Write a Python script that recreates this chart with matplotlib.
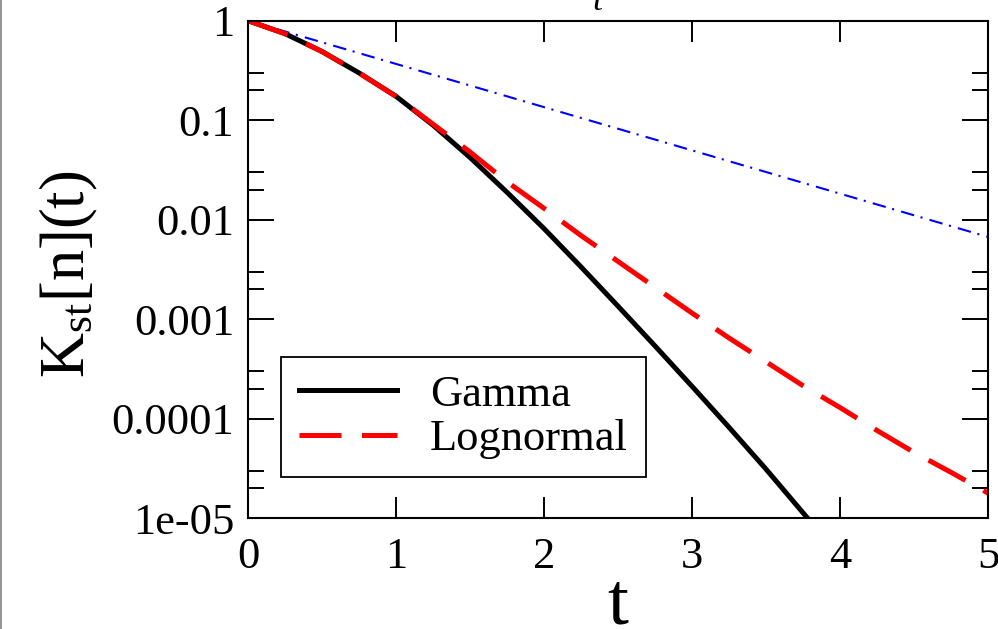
import matplotlib
matplotlib.use("Agg")
import matplotlib.pyplot as plt
from matplotlib.lines import Line2D

# ---- data ----
t_gamma = [0.0, 0.25, 0.5, 0.75, 1.0, 1.25, 1.5, 1.75, 2.0, 2.25, 2.5, 2.75, 3.0, 3.25, 3.5, 3.78]
k_gamma = [1.0, 0.741, 0.490, 0.2985, 0.1738, 0.0891, 0.0422, 0.01884, 0.00813, 0.00335,
           0.001349, 0.000537, 0.000211, 8.17e-5, 3.10e-5, 1.0e-5]

t_logn = [0.0, 0.25, 0.5, 0.75, 1.0, 1.25, 1.5, 1.75, 2.0, 2.25, 2.5, 2.75, 3.0, 3.25, 3.5,
          3.75, 4.0, 4.25, 4.5, 4.75, 5.0]
k_logn = [1.0, 0.741, 0.490, 0.2985, 0.1738, 0.0912, 0.0479, 0.0240, 0.0130, 0.00692, 0.0038,
          0.00209, 0.00115, 0.000646, 0.000372, 0.000214, 0.000129, 7.59e-5, 4.57e-5, 2.88e-5, 1.78e-5]

t_exp = [0.0, 2.5, 5.0]
k_exp = [1.0, 0.082, 0.0067]

x_ticks = [0, 1, 2, 3, 4, 5]
y_ticks = [1e-5, 1e-4, 1e-3, 1e-2, 1e-1, 1]
y_ticklabels = ["1e-05", "0.0001", "0.001", "0.01", "0.1", "1"]
series_labels = ["Gamma", "Lognormal"]

plt.rcParams["font.family"] = ["Liberation Serif", "DejaVu Serif"]
plt.rcParams["mathtext.fontset"] = "custom"
plt.rcParams["mathtext.rm"] = "Liberation Serif"
plt.rcParams["mathtext.it"] = "Liberation Serif:italic"

W, H = 998, 629
fig = plt.figure(figsize=(W / 100, H / 100), dpi=100)
ax = fig.add_axes([248 / W, (H - 518) / H, (988 - 248) / W, (518 - 20.7) / H])

ax.plot(t_exp, k_exp, color="#0000ff", lw=1.5, dashes=(6.5, 3.2, 1, 3.5))
ax.plot(t_gamma, k_gamma, color="black", lw=3.6, label=series_labels[0])
ax.plot(t_logn, k_logn, color="#ff0000", lw=3.6, dashes=(8.4, 4.1), label=series_labels[1])

ax.set_yscale("log")
ax.set_xlim(0, 5)
ax.set_ylim(1e-5, 1)
ax.set_xticks(x_ticks)
ax.set_xticklabels([str(v) for v in x_ticks])
ax.set_yticks(y_ticks)
ax.set_yticklabels(y_ticklabels)
minors = []
for e in range(-5, 0):
    minors += [2 * 10.0 ** e, 3 * 10.0 ** e]
ax.yaxis.set_minor_locator(matplotlib.ticker.FixedLocator(minors))
ax.yaxis.set_minor_formatter(matplotlib.ticker.NullFormatter())
ax.xaxis.set_minor_locator(matplotlib.ticker.NullLocator())

ax.tick_params(axis="both", which="both", direction="in", top=True, right=True, width=1.4, colors="black")
ax.tick_params(axis="x", which="major", length=15, pad=14, labelsize=32)
ax.tick_params(axis="y", which="major", length=18.7, pad=10, labelsize=32)
ax.tick_params(axis="y", which="minor", length=11.5)
for s in ax.spines.values():
    s.set_linewidth(1.5)

xl = ax.set_xlabel("t", fontsize=54)
xl.set_verticalalignment("baseline")
ax.xaxis.set_label_coords(0.5, -0.212)
ax.set_ylabel(r"K$_{\mathrm{st}}$[n](t)", fontsize=45)
ax.yaxis.set_label_coords(-0.200, 0.49)

leg = ax.legend(loc="lower left", bbox_to_anchor=(0.0446, 0.0824), borderaxespad=0,
                fontsize=32, handlelength=2.2, handletextpad=0.75, borderpad=0.4,
                labelspacing=0.1, fancybox=False, frameon=True, framealpha=1)
leg.get_frame().set_edgecolor("black")
leg.get_frame().set_linewidth(1.3)

# left border line of the original image
fig.add_artist(Line2D([0.5 / W, 0.5 / W], [0, 1], transform=fig.transFigure, color="#808080", lw=1.2))
# cut-off glyph at the top
fig.text(597 / W, 1 - 10 / H, "t", fontsize=26, style="italic", ha="center", va="baseline")

fig.savefig("out.png", dpi=100)
